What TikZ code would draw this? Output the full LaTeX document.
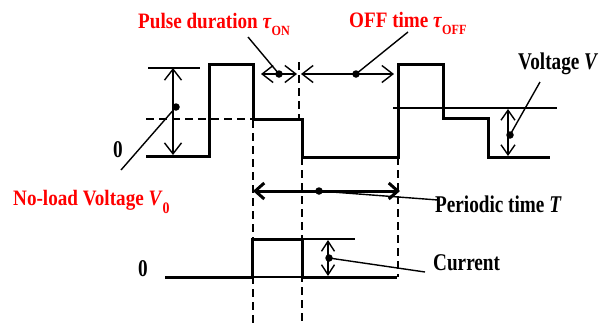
\documentclass[tikz,border=0pt]{standalone}
\usepackage{fontspec}
\setmainfont{Liberation Serif}
\newfontfamily\redf[FakeStretch=0.87]{Liberation Serif}
\newfontfamily\blkf[FakeStretch=0.8]{Liberation Serif}
\usetikzlibrary{arrows.meta}
\begin{document}
\begin{tikzpicture}[x=1pt,y=-1pt,
  wave/.style={line width=3pt, line join=miter},
  thinl/.style={line width=1.4pt},
  guide/.style={line width=1.5pt, dash pattern=on 8pt off 5pt},
  tipthin/.tip={Straight Barb[length=11pt,width=17pt]},
  tipthick/.tip={Straight Barb[length=9pt,width=16pt]},
  dbl/.style={line width=1.4pt, tipthin-tipthin},
  dotc/.style={circle, fill, inner sep=0pt, minimum size=7.5pt},
  redlab/.style={text=red, font=\redf\bfseries\fontsize{22}{24}\selectfont, inner sep=0pt, anchor=base west},
  blacklab/.style={font=\blkf\bfseries\fontsize{24}{26}\selectfont, inner sep=0pt, anchor=base west}]
\useasboundingbox (0,0) rectangle (613,325);

% guide lines (dashed)
\draw[guide] (253,120) -- (253,325);
\draw[guide] (299,62) -- (299,118);
\draw[guide] (302,157) -- (302,325);
\draw[guide] (398,157) -- (398,277);
\draw[line width=2.7pt, dash pattern=on 8pt off 5pt] (146,119) -- (252,119);

% voltage waveform
\draw[wave] (146,156) -- (209,156) -- (209,64) -- (253,64) -- (253,119) -- (302,119)
  -- (302,157) -- (398,157) -- (398,64) -- (443,64) -- (443,118) -- (488,118)
  -- (488,157) -- (550,157);

% thin reference lines
\draw[thinl] (148,68) -- (200,68);
\draw[thinl] (393,108) -- (557,108);

% current waveform
\draw[wave] (165,277) -- (252,277) -- (252,239) -- (302,239) -- (302,277) -- (397,277);
\draw[thinl] (252,277) -- (302,277);
\draw[thinl] (302,239) -- (355,239);

% named coordinates
\coordinate (v0top) at (173,68);
\coordinate (v0bot) at (173,155);
\node[dotc] (v0dot) at (176,107) {};
\coordinate (onL) at (261,74);
\coordinate (onR) at (297,74);
\node[dotc] (ondot) at (279,74) {};
\coordinate (offL) at (301,74);
\coordinate (offR) at (394,74);
\node[dotc] (offdot) at (356,74) {};
\coordinate (vtop) at (508,109);
\coordinate (vbot) at (508,156);
\node[dotc] (vdot) at (510,135) {};
\coordinate (tL) at (253,191);
\coordinate (tR) at (400,191);
\node[dotc] (tdot) at (319,191) {};
\coordinate (itop) at (328,240);
\coordinate (ibot) at (328,276);
\node[dotc] (idot) at (329,258) {};

% arrows
\draw[dbl] (v0top) -- (v0bot);
\draw[dbl] (onL) -- (onR);
\draw[dbl] (offL) -- (offR);
\draw[line width=1.4pt, {Straight Barb[length=10pt,width=14pt]}-{Straight Barb[length=10pt,width=14pt]}] (vtop) -- (vbot);
\draw[line width=3pt, tipthick-tipthick] (tL) -- (tR);
\draw[line width=1.4pt, {Straight Barb[length=10pt,width=13pt]}-{Straight Barb[length=10pt,width=13pt]}] (itop) -- (ibot);

% labels
\node[redlab] (lon) at (138,28) {Pulse duration \textit{τ}\raisebox{-7pt}{\fontsize{14}{14}\selectfont ON}};
\node[redlab] (loff) at (349,27) {OFF time \textit{τ}\raisebox{-7pt}{\fontsize{14}{14}\selectfont OFF}};
\node[redlab] (lv0) at (13,205) {No-load Voltage \textit{V}\raisebox{-8pt}{\fontsize{16}{16}\selectfont 0}};
\node[blacklab] (lv) at (518,69) {Voltage \textit{V}};
\node[blacklab] (lt) at (435,212) {Periodic time \textit{T}};
\node[blacklab] (li) at (433,270) {Current};
\node[blacklab] (z1) at (113,157) {0};
\node[blacklab] (z2) at (138,276) {0};

% leader lines
\draw[thinl] (ondot.center) -- (248,37);
\draw[thinl] (offdot.center) -- (408,32);
\draw[thinl] (v0dot.center) -- (121,170);
\draw[thinl] (vdot.center) -- (540,82);
\draw[thinl] (tdot.center) -- (438,200);
\draw[thinl] (idot.center) -- (425,272);
\end{tikzpicture}
\end{document}
